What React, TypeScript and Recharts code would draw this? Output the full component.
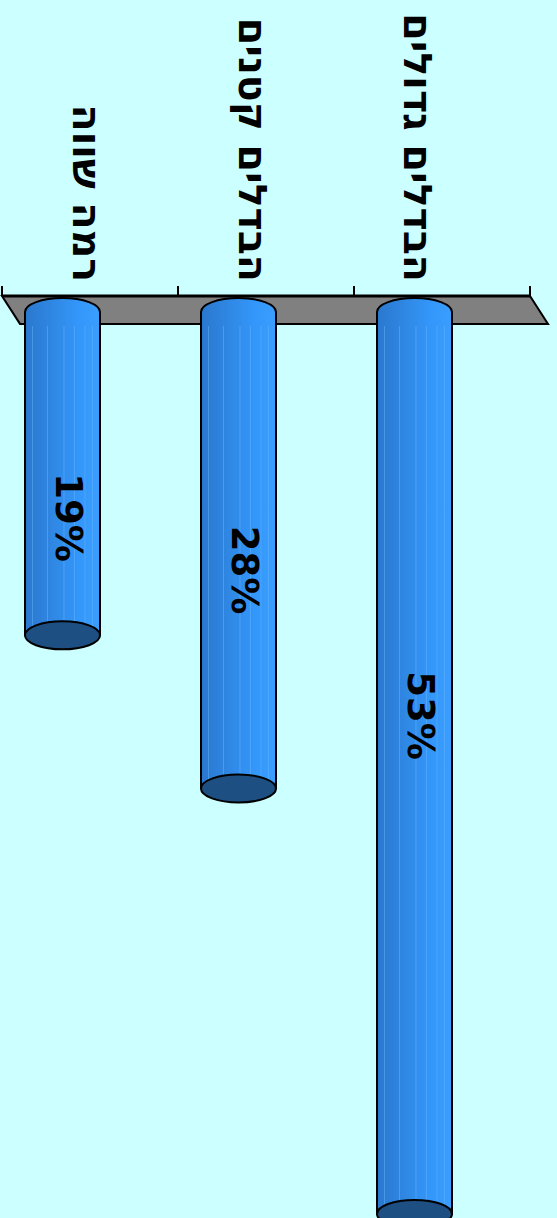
import React from 'react';
import { BarChart, Bar, XAxis, YAxis, ReferenceArea, LabelList } from 'recharts';

// ---- data ----
const categories = ['הבדלים גדולים', 'הבדלים קטנים', 'רמה שווה'];
const values = [53, 28, 19];
const valueLabels = ['53%', '28%', '19%'];
const valueDomain: [number, number] = [-0.94, 60];
const floorRange: [number, number] = [-0.94, 0.7];

const data = categories.map((name, i) => ({ name, value: values[i], label: valueLabels[i] }));

// ---- layout (chart is drawn sideways, then rotated 90deg clockwise) ----
const VIEW_W = 557;
const VIEW_H = 1218;
const CHART_W = 1333;
const CHART_H = 557;
const MARGIN = { top: 27, right: 0, bottom: 2, left: 0 };
const AXIS_W = 296;
const BAR_SIZE = 75;
const BAR_SHIFT = 27; // 3-D depth offset of the cylinders
const CAP_RX = 14;
const FONT = '"DejaVu Sans", Verdana, sans-serif';
const BG = '#CCFFFF';

const Cylinder = (props: any) => {
  const { x, y, width, height } = props;
  if (width == null || height == null) return null;
  const ry = height / 2;
  const cy = y + height / 2 + BAR_SHIFT;
  const x0 = x;
  const x1 = x + width;
  const top = cy - ry;
  const bot = cy + ry;
  const body = `M ${x0} ${top} L ${x1} ${top} L ${x1} ${bot} L ${x0} ${bot} A ${CAP_RX} ${ry} 0 0 1 ${x0} ${top} Z`;
  const stripes = [0.1, 0.3, 0.52, 0.66, 0.8, 0.9];
  return (
    <g>
      <path d={body} fill="url(#cylGrad)" stroke="none" />
      {stripes.map((f, i) => {
        const sy = bot - f * height;
        return <line key={i} x1={x0 + 14} x2={x1} y1={sy} y2={sy} stroke="#6BB8FF" strokeOpacity={0.45} strokeWidth={1} />;
      })}
      <path d={body} fill="none" stroke="#000" strokeWidth={2} />
      <ellipse cx={x1} cy={cy} rx={CAP_RX} ry={ry} fill="#1D4F82" stroke="#000" strokeWidth={2} />
    </g>
  );
};

const Floor = (props: any) => {
  const { x, y, width, height } = props;
  if (x == null) return null;
  const slant = 18;
  const pts = `${x},${y} ${x},${y + height} ${x + width},${y + height - slant} ${x + width},${y - slant}`;
  const ticks = [0, 1, 2, 3].map((k) => y + (k * height) / 3);
  return (
    <g>
      <polygon points={pts} fill="#808080" stroke="#000" strokeWidth={2} strokeLinejoin="miter" />
      <line x1={x} x2={x} y1={y} y2={y + height} stroke="#000" strokeWidth={3} />
      {ticks.map((ty, i) => (
        <line key={i} x1={x - 10} x2={x} y1={ty} y2={ty} stroke="#000" strokeWidth={2} />
      ))}
    </g>
  );
};

const CategoryTick = (props: any) => {
  const { x, y, payload, index } = props;
  const shift = 24 - 10.5 * (index ?? 0);
  return (
    <text
      x={x}
      y={y + shift}
      textAnchor="end"
      dominantBaseline="central"
      fontFamily={FONT}
      fontWeight={700}
      fontSize={39.5}
      fill="#000"
    >
      {payload.value}
    </text>
  );
};

const ValueLabel = (props: any) => {
  const { x, y, width, height, value } = props;
  if (x == null) return null;
  const cx = x + 95 + 0.342 * width;
  const cy = y + height / 2 + BAR_SHIFT - 6;
  return (
    <text x={cx} y={cy} textAnchor="middle" dominantBaseline="central" fontFamily={FONT} fontWeight={700} fontSize={37} fill="#000">
      {value}
    </text>
  );
};

export default function App() {
  return (
    <div
      style={{
        position: 'absolute',
        top: 0,
        left: 0,
        width: VIEW_W,
        height: VIEW_H,
        overflow: 'hidden',
        background: BG,
      }}
    >
      <div
        style={{
          position: 'absolute',
          top: 0,
          left: 0,
          width: CHART_W,
          height: CHART_H,
          transformOrigin: '0 0',
          transform: `translateX(${VIEW_W}px) rotate(90deg)`,
        }}
      >
        <BarChart width={CHART_W} height={CHART_H} data={data} layout="vertical" margin={MARGIN} barSize={BAR_SIZE}>
          <defs>
            <linearGradient id="cylGrad" x1="0" y1="0" x2="0" y2="1">
              <stop offset="0" stopColor="#3A9EFF" />
              <stop offset="0.3" stopColor="#3396FA" />
              <stop offset="0.55" stopColor="#308BE8" />
              <stop offset="0.8" stopColor="#2D80DA" />
              <stop offset="1" stopColor="#2A78CE" />
            </linearGradient>
          </defs>
          <XAxis type="number" hide domain={valueDomain} allowDataOverflow />
          <YAxis
            type="category"
            dataKey="name"
            width={AXIS_W}
            axisLine={false}
            tickLine={false}
            tickSize={0}
            tickMargin={14}
            interval={0}
            tick={(p: any) => <CategoryTick {...p} />}
          />
          <ReferenceArea x1={floorRange[0]} x2={floorRange[1]} ifOverflow="visible" shape={(p: any) => <Floor {...p} />} />
          <Bar dataKey="value" isAnimationActive={false} shape={(p: any) => <Cylinder {...p} />}>
            <LabelList dataKey="label" content={(p: any) => <ValueLabel {...p} />} />
          </Bar>
        </BarChart>
      </div>
    </div>
  );
}
